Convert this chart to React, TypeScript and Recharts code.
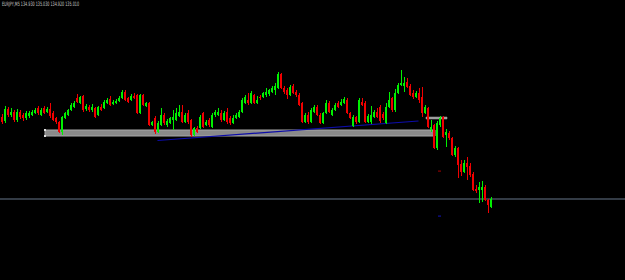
import React from 'react';
import { ComposedChart, Bar, XAxis, YAxis, ReferenceArea, ReferenceLine, ReferenceDot } from 'recharts';

const SYMBOL = 'EURJPY,M5';

const opens = [
  135.83,135.79,135.91,135.85,135.88,135.80,135.88,135.85,135.82,135.84,
  135.85,135.87,135.92,135.85,135.92,135.88,135.91,135.87,135.82,135.78,
  135.68,135.82,135.85,135.90,135.93,136.02,135.97,136.04,135.91,135.93,
  135.90,135.92,135.85,135.93,135.92,135.97,136.01,135.96,135.97,135.99,
  136.02,136.08,136.02,136.00,136.04,136.05,135.87,136.05,135.94,135.97,
  135.75,135.82,135.68,135.75,135.85,135.75,135.77,135.80,135.80,135.84,
  135.88,135.78,135.87,135.80,135.65,135.72,135.72,135.87,135.75,135.80,
  135.73,135.85,135.85,135.87,135.80,135.88,135.82,135.77,135.82,135.83,
  135.88,135.97,136.00,135.97,136.05,135.97,136.03,136.03,136.05,136.06,
  136.08,136.10,136.12,136.26,136.12,136.10,136.05,136.14,136.08,136.05,
  135.97,135.78,135.85,135.78,135.88,135.93,135.85,135.77,135.87,135.97,
  135.85,135.90,135.97,135.95,135.97,136.00,135.87,135.74,135.83,135.78,
  135.98,135.97,135.78,135.78,135.83,135.88,135.93,135.86,135.77,135.93,
  136.02,135.90,136.07,136.15,136.14,136.18,136.14,136.07,136.03,136.07,
  136.03,135.87,135.92,135.70,135.75,135.52,135.75,135.83,135.65,135.67,
  135.62,135.45,135.52,135.36,135.28,135.37,135.34,135.26,135.11,135.10,
  135.10,135.13,135.00,134.93,
];

const closes = [
  135.78,135.91,135.85,135.88,135.80,135.88,135.83,135.82,135.87,135.87,
  135.88,135.90,135.87,135.90,135.87,135.91,135.84,135.80,135.78,135.68,
  135.83,135.87,135.90,135.95,135.97,135.98,136.03,135.90,135.94,135.90,
  135.93,135.83,135.93,135.90,135.98,136.00,135.95,135.98,135.99,136.02,
  136.08,136.00,135.98,136.04,136.02,135.87,136.05,135.95,135.97,135.75,
  135.78,135.68,135.77,135.85,135.77,135.79,135.82,135.83,135.87,135.88,
  135.78,135.85,135.78,135.65,135.72,135.68,135.83,135.73,135.78,135.75,
  135.85,135.88,135.88,135.80,135.87,135.78,135.77,135.82,135.85,135.88,
  136.00,136.03,135.97,136.07,135.97,136.00,136.02,136.07,136.08,136.10,
  136.12,136.14,136.26,136.12,136.08,136.05,136.13,136.07,136.05,135.95,
  135.78,135.85,135.78,135.90,135.93,135.85,135.77,135.87,135.97,135.88,
  135.90,135.95,135.93,135.98,136.01,135.87,135.82,135.83,135.78,136.00,
  135.95,135.78,135.84,135.85,135.88,135.83,135.79,135.82,135.93,136.00,
  135.90,136.07,136.15,136.17,136.17,136.13,136.05,136.03,136.07,136.00,
  135.87,135.93,135.73,135.73,135.52,135.77,135.82,135.63,135.68,135.62,
  135.45,135.52,135.35,135.28,135.37,135.33,135.25,135.10,135.09,135.13,
  135.13,135.00,134.95,135.01,
];

const highs = [
  135.86,135.94,135.93,135.92,135.90,135.91,135.90,135.87,135.89,135.89,
  135.90,135.92,135.94,135.92,135.94,135.93,135.97,135.89,135.83,135.79,
  135.84,135.88,135.91,135.97,135.99,136.06,136.04,136.05,135.96,135.95,
  135.96,135.93,135.94,135.96,136.00,136.02,136.04,136.00,136.01,136.04,
  136.10,136.10,136.03,136.06,136.07,136.06,136.06,136.06,135.98,135.98,
  135.79,135.84,135.79,135.92,135.87,135.81,135.83,135.90,135.92,135.95,
  135.95,135.87,135.90,135.81,135.73,135.74,135.85,135.88,135.80,135.82,
  135.87,135.90,135.92,135.90,135.89,135.92,135.84,135.85,135.87,135.90,
  136.02,136.05,136.07,136.09,136.06,136.04,136.05,136.08,136.12,136.11,
  136.14,136.17,136.28,136.27,136.14,136.12,136.15,136.16,136.10,136.07,
  135.98,135.87,135.88,135.92,135.95,135.95,135.87,135.88,136.00,135.99,
  135.92,135.97,135.99,136.01,136.03,136.02,135.88,135.85,135.84,136.02,
  136.02,135.99,135.86,135.94,135.90,135.92,135.95,135.88,135.97,136.08,
  136.03,136.11,136.17,136.30,136.23,136.22,136.16,136.10,136.09,136.12,
  136.13,135.95,135.93,135.80,135.76,135.79,135.84,135.84,135.71,135.69,
  135.63,135.54,135.53,135.40,135.40,135.43,135.37,135.28,135.15,135.18,
  135.19,135.15,135.01,135.03,
];

const lows = [
  135.76,135.77,135.83,135.83,135.78,135.78,135.81,135.79,135.80,135.82,
  135.84,135.86,135.85,135.84,135.86,135.87,135.82,135.79,135.76,135.67,
  135.65,135.81,135.84,135.89,135.92,135.97,135.96,135.88,135.89,135.88,
  135.88,135.82,135.84,135.89,135.91,135.96,135.94,135.95,135.96,135.98,
  136.01,135.99,135.97,135.99,136.01,135.86,135.86,135.94,135.93,135.74,
  135.74,135.66,135.67,135.74,135.75,135.73,135.76,135.70,135.79,135.83,
  135.77,135.77,135.76,135.63,135.64,135.67,135.71,135.72,135.74,135.73,
  135.72,135.83,135.84,135.78,135.79,135.76,135.75,135.76,135.81,135.82,
  135.87,135.96,135.95,135.96,135.96,135.96,136.00,136.02,136.03,136.04,
  136.07,136.05,136.11,136.11,136.06,136.01,136.04,136.06,136.03,135.94,
  135.77,135.77,135.76,135.77,135.87,135.84,135.76,135.76,135.86,135.87,
  135.84,135.89,135.92,135.94,135.96,135.86,135.81,135.73,135.76,135.77,
  135.94,135.77,135.77,135.76,135.82,135.82,135.77,135.80,135.76,135.92,
  135.88,135.88,136.06,136.14,136.08,136.12,136.04,136.01,136.02,135.97,
  135.83,135.86,135.72,135.68,135.51,135.50,135.73,135.62,135.53,135.60,
  135.44,135.43,135.22,135.24,135.27,135.20,135.23,135.09,135.07,134.97,
  134.98,134.99,134.87,134.92,
];

// drawn objects on the chart (bar index, price)
const zoneMain = { fromBar: 15, toBar: 144, low: 135.64, high: 135.70 };
const zoneSmall = { fromBar: 142, toBar: 148, low: 135.81, high: 135.83 };
const trendFrom = { bar: 52, price: 135.595 };
const trendTo = { bar: 139, price: 135.79 };
const redMark = { bar: 146, price: 135.29 };
const blueMark = { bar: 146, price: 134.84 };

const SLOTS = 209;
const PRICE_MIN = 134.2;
const PRICE_MAX = 137.0;

const GREEN = '#00f000';
const RED = '#f00000';

const data = Array.from({ length: SLOTS }, (_, i) =>
  i < opens.length
    ? { t: i, open: opens[i], close: closes[i], high: highs[i], low: lows[i], range: [lows[i], highs[i]] }
    : { t: i, range: null }
);

const lastClose = closes[closes.length - 1];
const lastIdx = opens.length - 1;
const title = `${SYMBOL}  ${opens[lastIdx].toFixed(3)} ${highs[lastIdx].toFixed(3)} ${lows[lastIdx].toFixed(3)} ${lastClose.toFixed(3)}`;

const Candle = (props: any) => {
  const { x, y, width, height, payload } = props;
  if (!payload || payload.high == null || x == null) return null;
  const { open, close, high, low } = payload;
  const top = Math.min(y, y + height);
  const h = Math.abs(height);
  const span = high - low;
  const k = span > 0 ? h / span : 0;
  const yO = top + (high - open) * k;
  const yC = top + (high - close) * k;
  const up = close >= open;
  const color = up ? GREEN : RED;
  const bx = Math.round(x + width / 2 - 1);
  const bTop = Math.round(Math.min(yO, yC));
  const bBot = Math.max(Math.round(Math.max(yO, yC)), bTop + 1);
  const wTop = Math.round(top);
  const wBot = Math.max(Math.round(top + h), wTop + 1);
  return (
    <g>
      <rect x={bx + 1} y={wTop} width={1} height={wBot - wTop} fill={color} />
      <rect x={bx} y={bTop} width={2} height={bBot - bTop} fill={color} />
    </g>
  );
};

export default function App() {
  return (
    <div style={{ position: 'fixed', left: 0, top: 0, width: 625, height: 280, overflow: 'hidden', background: '#000' }}>
      <ComposedChart
        width={627}
        height={280}
        data={data}
        margin={{ top: 0, right: 0, bottom: 0, left: 0 }}
        barCategoryGap={0}
        barGap={0}
      >
        <XAxis dataKey="t" type="category" hide />
        <YAxis type="number" domain={[PRICE_MIN, PRICE_MAX]} hide allowDataOverflow />
        <ReferenceArea
          x1={zoneMain.fromBar}
          x2={zoneMain.toBar}
          y1={zoneMain.low}
          y2={zoneMain.high}
          fill="#8a8a8a"
          fillOpacity={1}
          stroke="#a8a8a8"
          strokeWidth={1}
        />
        <ReferenceArea
          x1={zoneSmall.fromBar}
          x2={zoneSmall.toBar}
          y1={zoneSmall.low}
          y2={zoneSmall.high}
          fill="#9a9a9a"
          fillOpacity={1}
          stroke="#a8a8a8"
          strokeWidth={0.5}
        />
        <ReferenceLine
          segment={[{ x: trendFrom.bar, y: trendFrom.price }, { x: trendTo.bar, y: trendTo.price }]}
          stroke="#0c0ca8"
          strokeWidth={1.2}
          zIndex={250}
        />
        <ReferenceLine y={lastClose} stroke="#66768a" strokeWidth={1} zIndex={250} />
        <ReferenceDot
          x={zoneMain.fromBar}
          y={zoneMain.high}
          shape={(p: any) => <rect x={p.cx - 2.5} y={p.cy - 1} width={2} height={2} fill="#e0e0e0" />}
        />
        <ReferenceDot
          x={zoneMain.fromBar}
          y={zoneMain.low}
          shape={(p: any) => <rect x={p.cx - 2.5} y={p.cy - 1} width={2} height={2} fill="#e0e0e0" />}
        />
        <ReferenceDot
          x={redMark.bar}
          y={redMark.price}
          shape={(p: any) => <rect x={p.cx - 1.5} y={p.cy - 0.5} width={3} height={1.2} fill="#8b0000" />}
        />
        <ReferenceDot
          x={blueMark.bar}
          y={blueMark.price}
          shape={(p: any) => <rect x={p.cx - 1.5} y={p.cy - 0.5} width={3} height={1.2} fill="#1010a0" />}
        />
        <Bar dataKey="range" shape={Candle} isAnimationActive={false} />
      </ComposedChart>
      <svg width={625} height={12} style={{ position: 'absolute', left: 0, top: 0 }}>
        <text
          x={2}
          y={6}
          fontSize={6}
          fontFamily="DejaVu Sans, sans-serif"
          fill="#c8c8c8"
          textLength={77}
          lengthAdjust="spacingAndGlyphs"
        >
          {title}
        </text>
      </svg>
    </div>
  );
}
